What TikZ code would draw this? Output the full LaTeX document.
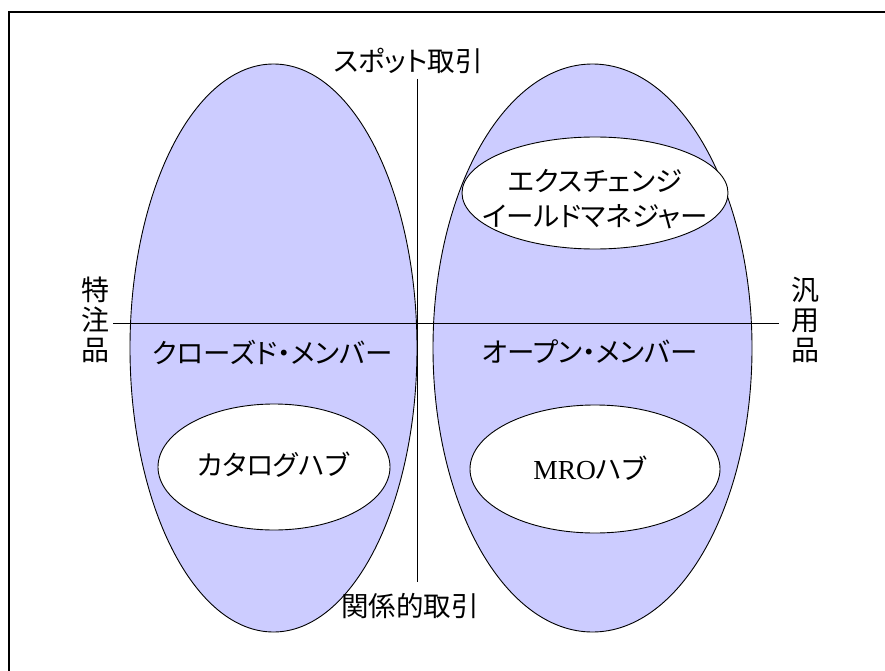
\documentclass[tikz,border=0pt]{standalone}
\usepackage{fontspec}
\setmainfont{Noto Sans CJK JP}[RawFeature={+palt}]
\newfontfamily\mroserif{Liberation Serif}
\usetikzlibrary{shapes.geometric}
\definecolor{lav}{RGB}{204,204,255}
\tikzset{
  bigell/.style={ellipse, draw=black, line width=0.9pt, fill=lav, inner sep=0pt},
  whiteell/.style={ellipse, draw=black, line width=0.9pt, fill=white, inner sep=0pt},
  axis/.style={draw=black, line width=1pt},
  lbl/.style={inner sep=0pt, font=\fontsize{27.5}{30}\selectfont, align=center},
  vlbl/.style={inner sep=0pt, font=\fontsize{28}{30}\selectfont, align=center},
}
\begin{document}
\begin{tikzpicture}[x=1pt,y=-1pt]
\useasboundingbox (0,0) rectangle (885,671);
\clip (0,0) rectangle (885,671);
\fill[white] (0,0) rectangle (885,671);
\draw[line width=2pt, black] (9,12) rectangle (900,690);
% big ellipses
\node[bigell, minimum width=287pt, minimum height=568pt] (L) at (273.5,348) {};
\node[bigell, minimum width=319pt, minimum height=568pt] (R) at (592.5,348) {};
% axes
\coordinate (top) at (417,79);
\coordinate (bot) at (417,582);
\coordinate (lft) at (113,323);
\coordinate (rgt) at (779,323);
\draw[axis] (top) -- (bot);
\draw[axis] (lft) -- (rgt);
% inner ellipses
\node[whiteell, minimum width=266pt, minimum height=112pt] (E) at (595,193) {};
\node[whiteell, minimum width=232pt, minimum height=126pt] (K) at (274,467) {};
\node[whiteell, minimum width=250pt, minimum height=128pt] (M) at (595,469) {};
% labels
\node[lbl] (spot) at (408,61) {スポット取引};
\node[lbl] (rel) at (410,606) {関係的取引};
\node[vlbl] (toku) at (95,320) {特\\注\\品};
\node[vlbl] (han) at (805,320) {汎\\用\\品};
\node[lbl] (closed) at (272.5,352) {クローズド・メンバー};
\node[lbl] (open) at (590,352) {オープン・メンバー};
\node[lbl, font=\fontsize{27.5}{35}\selectfont] (ex) at (595,199) {エクスチェンジ\\イールドマネジャー};
\node[lbl] (cat) at (273,465) {カタログハブ};
\node[lbl] (mro) at (590,468) {{\mroserif MRO}ハブ};
\end{tikzpicture}
\end{document}
